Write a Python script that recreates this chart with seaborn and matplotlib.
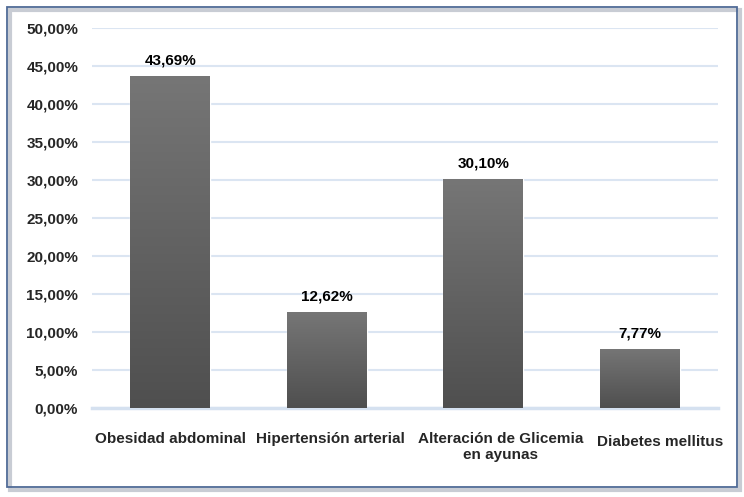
import numpy as np
import pandas as pd
import matplotlib
matplotlib.use("Agg")
import matplotlib.pyplot as plt
import matplotlib.transforms as mtransforms
import seaborn as sns
from matplotlib.patches import Rectangle

categories = ["Obesidad abdominal", "Hipertensión arterial",
              "Alteración de Glicemia\nen ayunas", "Diabetes mellitus"]
values = [43.69, 12.62, 30.10, 7.77]
value_labels = ["43,69%", "12,62%", "30,10%", "7,77%"]
yticks = [0, 5, 10, 15, 20, 25, 30, 35, 40, 45, 50]
ytick_labels = ["0,00%", "5,00%", "10,00%", "15,00%", "20,00%", "25,00%",
                "30,00%", "35,00%", "40,00%", "45,00%", "50,00%"]

df = pd.DataFrame({"cat": categories, "val": values})

sns.set_theme(style="white")
plt.rcParams["font.family"] = ["Liberation Sans", "DejaVu Sans"]
plt.rcParams["font.weight"] = "bold"

fig = plt.figure(figsize=(7.44, 4.97), dpi=100)
ax = fig.add_axes([0.1237, 0.179, 0.8413, 0.7647])

# outer frame with a small shadow
fig.patches.append(Rectangle((0.013, 0.014), 0.982, 0.966, transform=fig.transFigure,
                             facecolor="none", edgecolor="#c8ccd4", lw=3, zorder=0))
fig.patches.append(Rectangle((0.010, 0.020), 0.980, 0.966, transform=fig.transFigure,
                             facecolor="none", edgecolor="#4f6a96", lw=1.3, zorder=1))

sns.barplot(data=df, x="cat", y="val", ax=ax, width=0.51, color="#666666", zorder=2)

# vertical gradient fill, lighter on top
grad = np.linspace(0, 1, 256).reshape(-1, 1)
cmap = matplotlib.colors.LinearSegmentedColormap.from_list("g", ["#4f4f4f", "#767676"])
for bar, lab in zip(ax.patches, value_labels):
    x0, w, h = bar.get_x(), bar.get_width(), bar.get_height()
    im = ax.imshow(grad, extent=[x0, x0 + w, 0, h], origin="lower", cmap=cmap,
                   aspect="auto", zorder=3)
    im.set_clip_path(bar)
    bar.set_facecolor("none")
    ax.annotate(lab, (x0 + w / 2, h), xytext=(0, 6), textcoords="offset points",
                ha="center", va="bottom", fontsize=11, fontweight="bold", color="black")

ax.set_xlim(-0.5, 3.5)
ax.set_ylim(0, 50)
ax.set_yticks(yticks)
ax.set_yticklabels(ytick_labels)
ax.yaxis.grid(True, color="#dbe5f2", lw=1.5, zorder=0)
ax.set_axisbelow(True)
for s in ["top", "right", "left"]:
    ax.spines[s].set_visible(False)
ax.spines["bottom"].set_color("#d5e1f0")
ax.spines["bottom"].set_linewidth(2.5)
ax.tick_params(axis="y", length=0, pad=10, labelsize=11)
ax.tick_params(axis="x", length=0, pad=17, labelsize=11)
ax.set_xlabel("")
ax.set_ylabel("")

# Excel nudges the category labels apart so they don't collide
shifts = [(0, 0), (4, 0), (17, 0), (20, -3)]
for t, (dx, dy) in zip(ax.get_xticklabels(), shifts):
    t.set_transform(t.get_transform() +
                    mtransforms.ScaledTranslation(dx / 100, dy / 100, fig.dpi_scale_trans))

fig.savefig("out.png", dpi=100)
